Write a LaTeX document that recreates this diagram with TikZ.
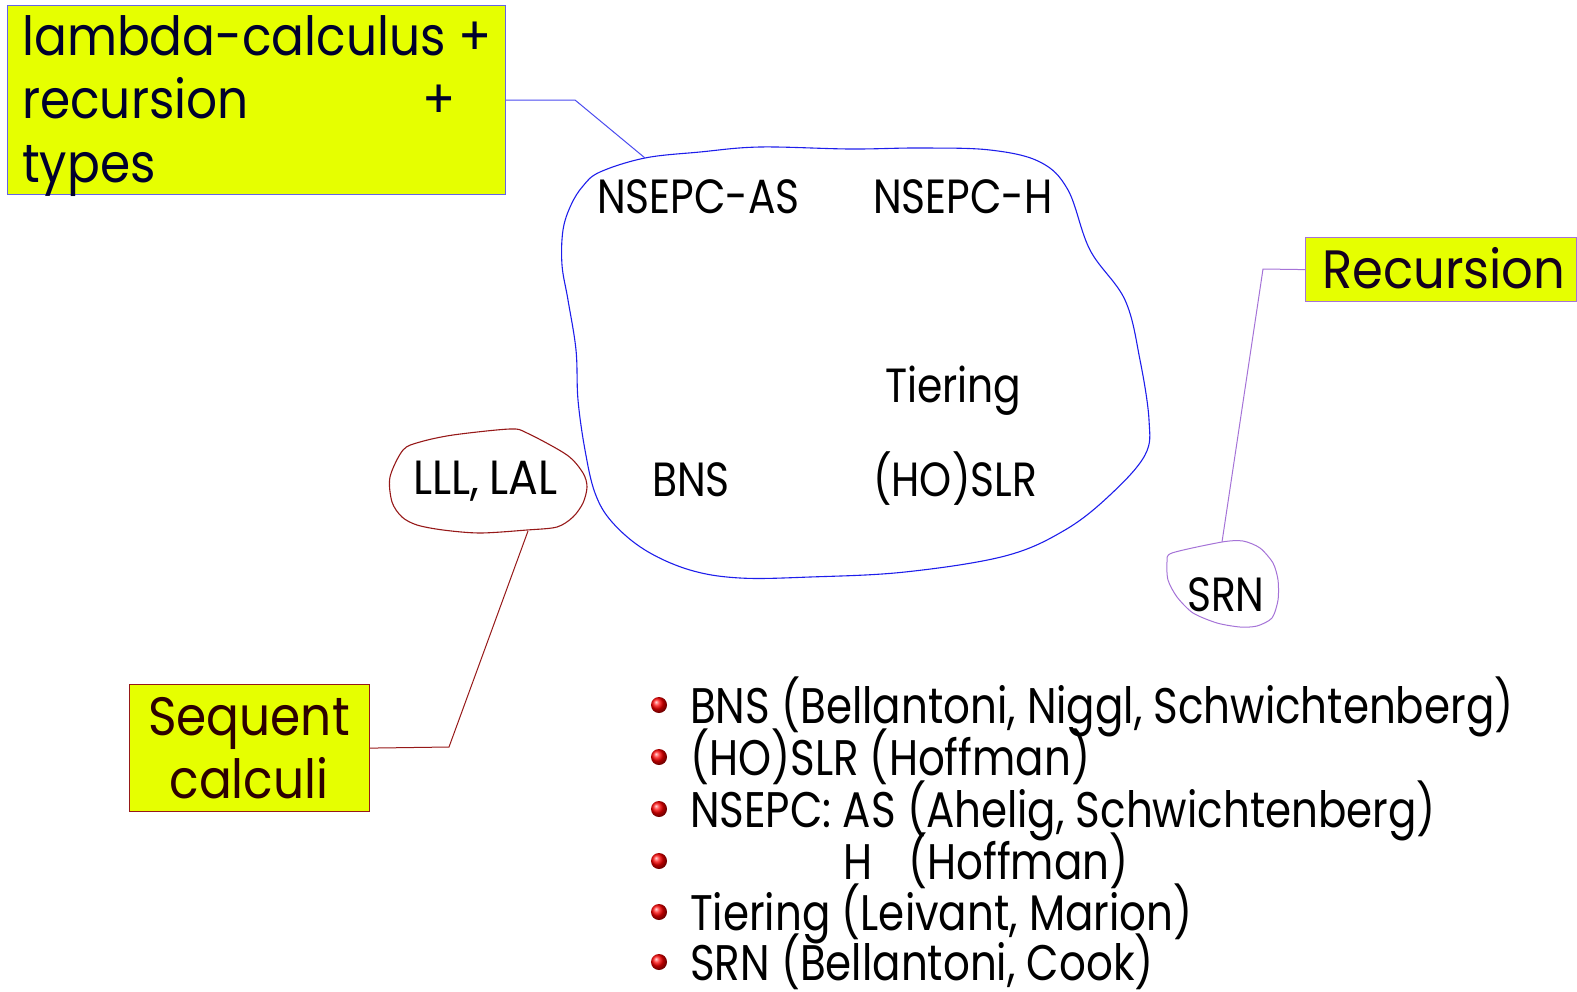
\documentclass[tikz,border=0pt]{standalone}
\usepackage{fontspec}
\usetikzlibrary{shadings}
\newfontfamily\boxfont[FakeStretch=0.90]{Poppins}
\newfontfamily\recfont[FakeStretch=0.92]{Poppins}
\newfontfamily\blobfont[FakeStretch=0.85]{Poppins}
\newfontfamily\lllfont[FakeStretch=0.92]{Poppins}
\newfontfamily\listfont[FakeStretch=0.84]{Poppins}
\definecolor{hiyel}{RGB}{230,255,0}
\definecolor{blobblue}{RGB}{30,30,235}
\definecolor{boxblue}{RGB}{100,100,230}
\definecolor{navytxt}{RGB}{0,0,45}
\definecolor{dred}{RGB}{150,25,25}
\definecolor{dredtxt}{RGB}{45,0,0}
\definecolor{purp}{RGB}{165,115,215}
\definecolor{purptxt}{RGB}{20,0,30}
\tikzset{
  txt/.style={inner sep=0pt, anchor=base west},
  bigfont/.style={font=\boxfont\fontsize{54}{60}\selectfont},
  recfontst/.style={font=\recfont\fontsize{54}{60}\selectfont},
  blobtxt/.style={txt, font=\blobfont\fontsize{48}{56}\selectfont, text=black},
  listtxt/.style={txt, font=\listfont\fontsize{50}{56}\selectfont, text=black, text depth=8pt},
  label box/.style={draw=#1, fill=hiyel, line width=1.2pt, anchor=north west, inner sep=0pt},
  bullet/.style={circle, inner sep=0pt, minimum size=16pt, shading=ball, ball color=red},
}
\begin{document}
\begin{tikzpicture}[x=1pt,y=-1pt]
\useasboundingbox (0,0) rectangle (1577,991);

% top-left label box
\node[label box=boxblue, minimum width=498pt, minimum height=189pt] (lbox) at (7,5) {};
\node[txt, bigfont, text=navytxt] (l1) at (22,55) {lambda-calculus +};
\node[txt, bigfont, text=navytxt] (l2) at (22,118) {recursion};
\node[txt, bigfont, text=navytxt] (l2p) at (422,118) {+};
\node[txt, bigfont, text=navytxt] (l3) at (22,182) {types};

% blob
\draw[blobblue, line width=1.1pt] plot[smooth cycle, tension=0.6] coordinates {
 (583,186) (600,172) (645,158) (700,152) (760,147) (850,149) (920,148) (990,150)
 (1040,162) (1068,190) (1090,250) (1125,300) (1140,360) (1149,420) (1145,455)
 (1110,495) (1065,530) (1005,556) (905,572) (810,577) (740,578) (690,570)
 (645,550) (612,522) (595,493) (585,450) (578,400) (576,350) (568,300)
 (562,265) (563,230) (571,205)};
\coordinate (blobtop) at (645,158);
\draw[blobblue!80!white, line width=1pt] (lbox.east) -- (575,100) -- (blobtop);

\node[blobtxt] (nas) at (597,213) {NSEPC-AS};
\node[blobtxt] (nh) at (873,213) {NSEPC-H};
\node[blobtxt] (tier) at (885,402) {Tiering};
\node[blobtxt] (bns) at (652,496) {BNS};
\node[blobtxt] (slr) at (873,496) {(HO)SLR};

% LLL blob
\draw[dred, line width=1.1pt] plot[smooth cycle, tension=0.5] coordinates {
 (390,477) (403,450) (420,442) (453,435) (510,429) (527,433) (567,455) (583,473)
 (587,487) (583,503) (573,517) (557,527) (527,530) (480,533) (443,530) (417,525)
 (402,517) (392,502)};
\coordinate (lllbot) at (528,531);
\node[txt, font=\lllfont\fontsize{48}{56}\selectfont, text=black] (lll) at (413,494) {LLL,\hspace{10pt}LAL};

% Sequent calculi
\node[label box=dred, minimum width=240pt, minimum height=127pt] (seq) at (129,684) {};
\node[inner sep=0pt, anchor=base, bigfont, text=dredtxt] (seq1) at (249,735) {Sequent};
\node[inner sep=0pt, anchor=base, bigfont, text=dredtxt] (seq2) at (249,798) {calculi};
\draw[dred, line width=1pt] (seq.east) -- (449,747) -- (lllbot);

% Recursion
\node[label box=purp, minimum width=271pt, minimum height=64pt] (rec) at (1305,237) {};
\node[txt, recfontst, text=purptxt] (rect) at (1322,288) {Recursion};
\draw[purp, line width=1pt] plot[smooth cycle, tension=0.45] coordinates {
 (1172,553) (1222,542) (1243,541) (1260,548) (1273,563) (1278,580) (1278,600)
 (1272,618) (1257,626) (1240,627) (1217,623) (1193,613) (1177,597) (1168,580)
 (1167,562)};
\coordinate (srntop) at (1222,542);
\draw[purp, line width=1pt] (rec.west) -- (1263,269) -- (srntop);
\node[blobtxt] (srn) at (1187,611) {SRN};

% bullet list
\foreach \i/\yy in {1/705,2/757,3/809,4/861,5/912,6/962}{
  \node[bullet] (b\i) at (659,\yy) {};
}
\node[listtxt] (t1) at (690,723) {BNS (Bellantoni, Niggl, Schwichtenberg)};
\node[listtxt] (t2) at (690,775) {(HO)SLR (Hoffman)};
\node[listtxt] (t3) at (690,827) {NSEPC: AS (Ahelig, Schwichtenberg)};
\node[listtxt] (t4a) at (843,879) {H};
\node[listtxt] (t4b) at (908,879) {(Hoffman)};
\node[listtxt] (t5) at (690,930) {Tiering (Leivant, Marion)};
\node[listtxt] (t6) at (690,980) {SRN (Bellantoni, Cook)};
\end{tikzpicture}
\end{document}
